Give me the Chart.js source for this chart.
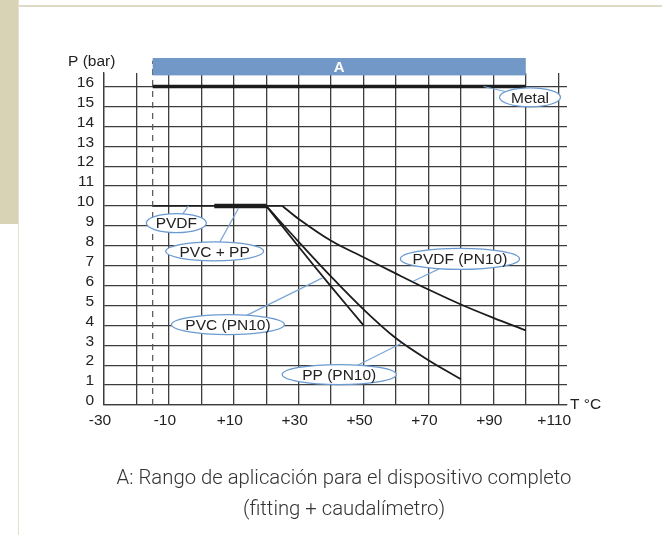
<!DOCTYPE html>
<html>
<head>
<meta charset="utf-8">
<script src="https://cdn.jsdelivr.net/npm/chart.js@4.4.0/dist/chart.umd.min.js"></script>
<style>
  html, body { margin: 0; padding: 0; background: #fff; }
  #page { position: relative; width: 662px; height: 535px; overflow: hidden; }
  #strip { position: absolute; left: 0; top: 0; width: 18px; height: 224px; background: #d8d3b5; }
  #topline { position: absolute; left: 18px; top: 5px; width: 644px; height: 2px; background: #dedac6; }
  #leftline { position: absolute; left: 18px; top: 0; width: 1px; height: 535px; background: #e4e0d0; }
  canvas { position: absolute; left: 0; top: 0; }
  .caption { position: absolute; left: 44px; width: 600px; text-align: center;
    font-family: Roboto, "Liberation Sans", Arial, sans-serif; font-weight: 300;
    font-size: 20.3px; color: #333; line-height: 24px; }
</style>
</head>
<body>
<div id="page">
  <div id="strip"></div>
  <div id="topline"></div>
  <div id="leftline"></div>
  <canvas id="chart" width="662" height="535"></canvas>
  <div class="caption" style="top:465px">A: Rango de aplicación para el dispositivo completo</div>
  <div class="caption" style="top:496px">(fitting + caudalímetro)</div>
</div>
<script>
// datos (T en °C, P en bar)
var xTicks = [-30, -20, -10, 0, 10, 20, 30, 40, 50, 60, 70, 80, 90, 100, 110];
var xTickLabels = ['-30', '', '-10', '', '+10', '', '+30', '', '+50', '', '+70', '', '+90', '', '+110'];
var yTicks = [0, 1, 2, 3, 4, 5, 6, 7, 8, 9, 10, 11, 12, 13, 14, 15, 16];
var yTickLabels = ['0', '1', '2', '3', '4', '5', '6', '7', '8', '9', '10', '11', '12', '13', '14', '15', '16'];

var rangeA = [-15, 100];

var metalT = [-15, 100];
var metalP = [16, 16];
var pvdfT = [-15, 25];
var pvdfP = [10, 10];
var pvcPpT = [4, 20];
var pvcPpP = [10, 10];
var pvdfPN10T = [25, 30, 40, 50, 60, 70, 80, 90, 100];
var pvdfPN10P = [10, 9.35, 8.25, 7.42, 6.6, 5.8, 5.05, 4.38, 3.75];
var pvcPN10T = [20, 30, 40, 50];
var pvcPN10P = [10, 7.95, 5.95, 4.0];
var ppPN10T = [20, 30, 40, 50, 60, 70, 80];
var ppPN10P = [10, 8.2, 6.45, 4.8, 3.35, 2.25, 1.3];

// etiquetas con elipse: centro y punto de la línea guía en T/P
var callouts = [
    { text: 'Metal', T: 101.3, P: 15.46, w: 61, h: 19, fromT: 87, fromP: 16 },
    { text: 'PVDF', T: -7.7, P: 9.14, w: 60, h: 19, fromT: -4, fromP: 10 },
    { text: 'PVC + PP', T: 4.1, P: 7.72, w: 98, h: 19, fromT: 11.5, fromP: 9.9 },
    { text: 'PVC (PN10)', T: 8.2, P: 4.04, w: 113, h: 20, fromT: 37.5, fromP: 6.4 },
    { text: 'PVDF (PN10)', T: 79.7, P: 7.34, w: 119, h: 21, fromT: 65.3, fromP: 6.22 },
    { text: 'PP (PN10)', T: 42.5, P: 1.53, w: 114, h: 20, fromT: 61.7, fromP: 3.1 }
];

var FONT = '"Liberation Sans", Arial, sans-serif';
var gridColor = '#3d3d3d';
var lineColor = '#1c1c1c';

function pts(xs, ys) {
    return xs.map(function (x, i) { return { x: x, y: ys[i] }; });
}

function curve(label, xs, ys, width) {
    return {
        label: label,
        data: pts(xs, ys),
        showLine: true,
        borderColor: lineColor,
        borderWidth: width,
        pointRadius: 0,
        tension: 0.35,
        borderCapStyle: 'butt'
    };
}

// elipses, textos y barra A
var overlay = {
    id: 'overlay',
    afterDatasetsDraw: function (chart) {
        var ctx = chart.ctx, area = chart.chartArea;
        var x = chart.scales.x, y = chart.scales.y;
        ctx.save();

        // barra A
        var x0 = x.getPixelForValue(rangeA[0]), x1 = x.getPixelForValue(rangeA[1]);
        var top = area.top - 15, bot = area.top + 2.4;
        ctx.fillStyle = '#7198c6';
        ctx.fillRect(x0, top, x1 - x0, bot - top);
        ctx.fillStyle = '#fff';
        ctx.font = 'bold 15px ' + FONT;
        ctx.textAlign = 'center';
        ctx.textBaseline = 'middle';
        ctx.fillText('A', (x0 + x1) / 2, (top + bot) / 2 + 1);

        // títulos de ejes
        ctx.fillStyle = '#222';
        ctx.font = '15.5px ' + FONT;
        ctx.textAlign = 'left';
        ctx.fillText('P (bar)', 68, 62);
        ctx.fillText('T °C', area.right + 3, y.getPixelForValue(0));

        // etiquetas
        callouts.forEach(function (c) {
            var cx = x.getPixelForValue(c.T), cy = y.getPixelForValue(c.P);
            ctx.strokeStyle = '#7aa6d6';
            ctx.lineWidth = 1.2;
            ctx.beginPath();
            ctx.moveTo(x.getPixelForValue(c.fromT), y.getPixelForValue(c.fromP));
            ctx.lineTo(cx, cy);
            ctx.stroke();
            ctx.beginPath();
            ctx.ellipse(cx, cy, c.w / 2, c.h / 2, 0, 0, Math.PI * 2);
            ctx.fillStyle = '#fff';
            ctx.fill();
            ctx.strokeStyle = '#6a9ad0';
            ctx.lineWidth = 1.3;
            ctx.stroke();
            ctx.fillStyle = '#222';
            ctx.textAlign = 'center';
            ctx.fillText(c.text, cx, cy + 1);
        });
        ctx.restore();
    }
};

var dashed = {
    label: 'limite',
    data: [{ x: rangeA[0], y: 0 }, { x: rangeA[0], y: 17.3 }],
    showLine: true,
    borderColor: '#555',
    borderWidth: 1.2,
    borderDash: [6, 5],
    pointRadius: 0,
    clip: false
};

new Chart(document.getElementById('chart').getContext('2d'), {
    type: 'scatter',
    data: {
        datasets: [
            dashed,
            curve('Metal', metalT, metalP, 3.5),
            curve('PVDF', pvdfT, pvdfP, 1.8),
            curve('PVC + PP', pvcPpT, pvcPpP, 4.5),
            curve('PVDF (PN10)', pvdfPN10T, pvdfPN10P, 1.8),
            curve('PVC (PN10)', pvcPN10T, pvcPN10P, 1.8),
            curve('PP (PN10)', ppPN10T, ppPN10P, 1.8)
        ]
    },
    options: {
        responsive: false,
        animation: false,
        layout: { padding: { left: 54, right: 95, top: 73, bottom: 100 } },
        plugins: { legend: { display: false }, tooltip: { enabled: false } },
        scales: {
            x: {
                type: 'linear', min: -30, max: 112.7,
                afterBuildTicks: function (s) { s.ticks = xTicks.map(function (v) { return { value: v }; }); },
                afterFit: function (s) { s.height = 30; },
                ticks: {
                    callback: function (v, i) { return xTickLabels[i]; },
                    autoSkip: false, maxRotation: 0, padding: 6, labelOffset: -4,
                    color: '#222', font: { family: FONT, size: 15.5 }
                },
                grid: { color: gridColor, lineWidth: 1.3, drawTicks: false },
                border: { color: gridColor, width: 1.3 }
            },
            y: {
                type: 'linear', min: 0, max: 16.68,
                afterBuildTicks: function (s) { s.ticks = yTicks.map(function (v) { return { value: v }; }); },
                afterFit: function (s) { s.width = 50; },
                ticks: {
                    callback: function (v, i) { return yTickLabels[i]; },
                    autoSkip: false, padding: 10, labelOffset: -4,
                    color: '#222', font: { family: FONT, size: 15.5 }
                },
                grid: { color: gridColor, lineWidth: 1.3, drawTicks: false },
                border: { color: gridColor, width: 1.3 }
            }
        }
    },
    plugins: [overlay]
});
</script>
</body>
</html>
